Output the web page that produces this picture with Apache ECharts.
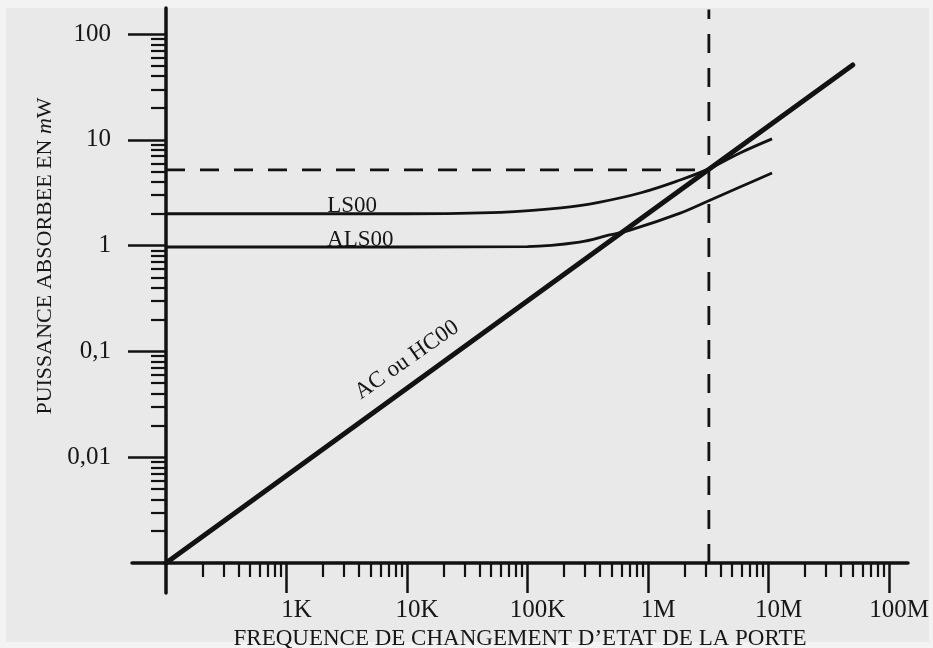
<!DOCTYPE html>
<html><head><meta charset="utf-8">
<script src="https://cdn.jsdelivr.net/npm/echarts@6/dist/echarts.min.js"></script>
<style>
html,body{margin:0;padding:0;background:#f3f3f3;}
#c{width:933px;height:648px;background:#e9e9e9;box-shadow:inset 6px 0 0 #f3f3f3,inset 0 8px 0 #f3f3f3,inset -4px 0 0 #f3f3f3,inset 0 -6px 0 #f3f3f3;}
</style></head><body><div id="c"></div>
<script>
// ---- data ----
const freqTicks = [1e3, 1e4, 1e5, 1e6, 1e7, 1e8];
const freqTickLabels = ['1K', '10K', '100K', '1M', '10M', '100M'];
const powerTicks = [0.01, 0.1, 1, 10, 100];
const powerTickLabels = ['0,01', '0,1', '1', '10', '100'];

const hcFreq  = [100, 1e4, 5e7];
const hcPower = [0.001, 0.0448, 51];

const lsFreq  = [100, 1e3, 1e4, 6e4, 1.9e5, 4e5, 8.6e5, 1.85e6, 3.3e6, 5.8e6, 1.07e7];
const lsPower = [2.0, 2.0, 2.0, 2.06, 2.27, 2.58, 3.14, 4.17, 5.4, 7.5, 10.2];

const alsFreq  = [100, 1e3, 1e4, 1e5, 2.7e5, 4.8e5, 7.1e5, 1.85e6, 3.3e6, 5.8e6, 1.07e7];
const alsPower = [0.97, 0.97, 0.97, 0.98, 1.08, 1.26, 1.40, 2.03, 2.70, 3.58, 4.86];

const originFreq = 100, originPower = 0.001;
const markerFreq = 3.2e6, markerPower = 5.2, markerTopPower = 170;

const seriesNames = ['AC ou HC00', 'LS00', 'ALS00'];
const annotFreq  = [1e4, 3500, 4100];
const annotPower = [0.083, 2.0, 0.97];

// ---- helpers ----
const zip = (a, b) => a.map((v, i) => [v, b[i]]);
const minorTicks = (k0, k1) => { const r = []; for (let k = k0; k <= k1; k++) for (let m = 2; m <= 9; m++) r.push(m * Math.pow(10, k)); return r; };
const lookup = (ticks, labels) => v => { const i = ticks.findIndex(t => Math.abs(Math.log10(t) - Math.log10(v)) < 1e-6); return i < 0 ? '' : labels[i]; };

const INK = '#121212';
const TXT = '#161616';
const FONT = '"Liberation Serif", "DejaVu Serif", serif';
const X_MIN = Math.pow(10, 2 - 34 / 120.5), X_MAX = Math.pow(10, 2 + 742 / 120.5);
const Y_MIN = Math.pow(10, -3 - 30 / 105.8), Y_MAX = Math.pow(10, -3 + 555 / 105.8);

const chart = echarts.init(document.getElementById('c'), null, {renderer: 'canvas'});
const dashed = {color: INK, width: 2.8, type: [19, 15]};
const annot = (i, extra) => ({
  symbol: 'circle', symbolSize: 0,
  data: [{coord: [annotFreq[i], annotPower[i]], value: seriesNames[i]}],
  label: Object.assign({show: true, formatter: seriesNames[i], color: TXT, fontFamily: FONT, fontSize: 23}, extra)
});

chart.setOption({
  animation: false,
  backgroundColor: 'transparent',
  grid: {left: 132, right: 25, top: 8, bottom: 55, outerBoundsMode: 'none'},
  xAxis: [
    {type: 'log', min: X_MIN, max: X_MAX, position: 'bottom', offset: -30,
     axisLine: {show: true, onZero: false, lineStyle: {color: INK, width: 3.5}},
     axisTick: {show: true, customValues: freqTicks, length: 30, lineStyle: {color: INK, width: 2.5}},
     axisLabel: {show: true, customValues: freqTicks, formatter: lookup(freqTicks, freqTickLabels), margin: 35, padding: [0, 0, 0, 20], color: TXT, fontFamily: FONT, fontSize: 25},
     splitLine: {show: false}, minorTick: {show: false},
     name: 'FREQUENCE DE CHANGEMENT D\u2019ETAT DE LA PORTE', nameLocation: 'middle', nameGap: 63,
     nameTextStyle: {color: TXT, fontFamily: FONT, fontSize: 23}},
    {type: 'log', min: X_MIN, max: X_MAX, position: 'bottom', offset: -30,
     axisLine: {show: false, onZero: false},
     axisTick: {show: true, customValues: minorTicks(2, 7), length: 14, lineStyle: {color: INK, width: 2.2}},
     axisLabel: {show: false}, splitLine: {show: false}}
  ],
  yAxis: [
    {type: 'log', min: Y_MIN, max: Y_MAX, position: 'left', offset: -34,
     axisLine: {show: true, onZero: false, lineStyle: {color: INK, width: 3.5}},
     axisTick: {show: true, customValues: powerTicks, length: 38, lineStyle: {color: INK, width: 2.5}},
     axisLabel: {show: true, customValues: powerTicks, formatter: lookup(powerTicks, powerTickLabels), margin: 55, color: TXT, fontFamily: FONT, fontSize: 25},
     splitLine: {show: false}, minorTick: {show: false},
     name: 'PUISSANCE ABSORBEE EN {i|m}W', nameLocation: 'middle', nameGap: 103,
     nameTextStyle: {color: TXT, fontFamily: FONT, fontSize: 22, padding: [0, 0, 0, 89],
       rich: {i: {fontStyle: 'italic', color: TXT, fontFamily: FONT, fontSize: 22}}}},
    {type: 'log', min: Y_MIN, max: Y_MAX, position: 'left', offset: -34,
     axisLine: {show: false, onZero: false},
     axisTick: {show: true, customValues: minorTicks(-3, 1), length: 15, lineStyle: {color: INK, width: 2.2}},
     axisLabel: {show: false}, splitLine: {show: false}}
  ],
  series: [
    {name: seriesNames[0], type: 'line', data: zip(hcFreq, hcPower), symbol: 'none',
     lineStyle: {color: INK, width: 5, cap: 'round'}, markPoint: annot(0, {position: 'inside', rotate: 35})},
    {name: seriesNames[1], type: 'line', data: zip(lsFreq, lsPower), symbol: 'none', smooth: 0.4,
     lineStyle: {color: INK, width: 2.8}, markPoint: annot(1, {position: 'top', distance: -4})},
    {name: seriesNames[2], type: 'line', data: zip(alsFreq, alsPower), symbol: 'none', smooth: 0.4,
     lineStyle: {color: INK, width: 2.8}, markPoint: annot(2, {position: 'top', distance: -4})},
    {name: 'v', type: 'line', data: [[markerFreq, originPower], [markerFreq, markerTopPower]], symbol: 'none', lineStyle: dashed},
    {name: 'h', type: 'line', data: [[originFreq, markerPower], [markerFreq, markerPower]], symbol: 'none', lineStyle: dashed}
  ]
});
</script></body></html>
